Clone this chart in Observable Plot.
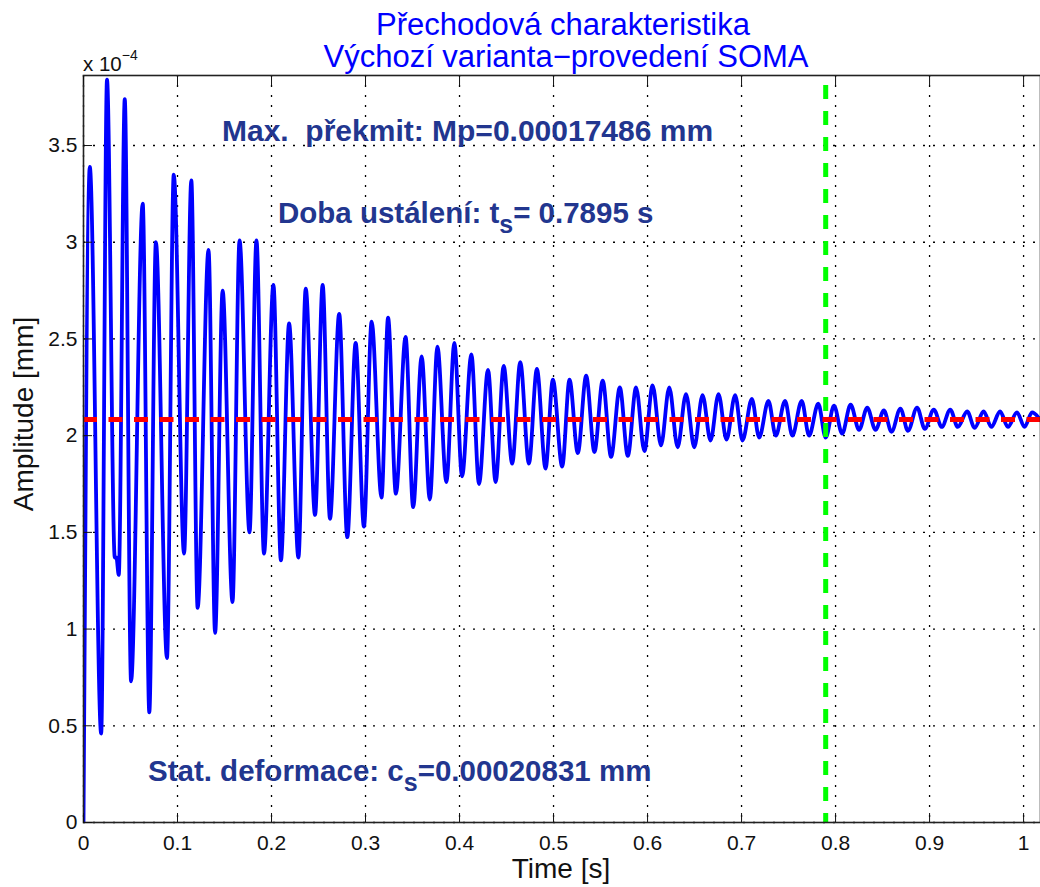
<!DOCTYPE html>
<html><head><meta charset="utf-8">
<script src="https://cdn.jsdelivr.net/npm/d3@7"></script>
<script src="https://cdn.jsdelivr.net/npm/@observablehq/plot@0.6"></script>
<style>
html,body{margin:0;padding:0;background:#fff;overflow:hidden}
#chart svg{display:block}
</style></head><body><div id="chart"></div>
<script>
// Time [s] of the successive extrema of the step response
const time = [
  0, 0.0067, 0.0188, 0.025, 0.0333, 0.0350, 0.0375, 0.0439, 0.0506, 0.063,
  0.070, 0.077, 0.0888, 0.096, 0.107, 0.1147, 0.1214, 0.133, 0.140, 0.148,
  0.1585, 0.166, 0.1766, 0.184, 0.192, 0.202, 0.210, 0.2187, 0.2286, 0.2364,
  0.2463, 0.2544, 0.2622, 0.272, 0.2806, 0.2895, 0.2983, 0.3065, 0.317, 0.324,
  0.3323, 0.3426, 0.3507, 0.3597, 0.3684, 0.3765, 0.386, 0.3945, 0.4027, 0.4126,
  0.4207, 0.4303, 0.4384, 0.447, 0.456, 0.4646, 0.4738, 0.4823, 0.4915, 0.4993,
  0.5092, 0.517, 0.5258, 0.5347, 0.5435, 0.5523, 0.5612, 0.5705, 0.579, 0.5878,
  0.5966, 0.6054, 0.6143, 0.6231, 0.632, 0.6409, 0.6497, 0.6585, 0.667, 0.6755,
  0.684, 0.6932, 0.701, 0.711, 0.7187, 0.7286, 0.7364, 0.7463, 0.754, 0.764,
  0.7718, 0.7816, 0.7895, 0.7983, 0.807, 0.816, 0.825, 0.8337, 0.8425, 0.8514,
  0.8595, 0.869, 0.877, 0.8867, 0.895, 0.9045, 0.913, 0.922, 0.930, 0.940,
  0.948, 0.9575, 0.9657, 0.975, 0.9833, 0.993, 1.001, 1.009, 1.018
];
// Amplitude [mm] x 10^-4
const amplitude = [
  0, 3.39, 0.46, 3.84, 1.37, 1.37, 1.28, 3.74, 0.73, 3.20,
  0.57, 3.00, 0.85, 3.35, 1.39, 3.32, 1.11, 2.96, 0.98, 2.75,
  1.14, 3.01, 1.50, 3.01, 1.39, 2.78, 1.355, 2.58, 1.37, 2.76,
  1.59, 2.78, 1.57, 2.63, 1.475, 2.48, 1.53, 2.59, 1.68, 2.61,
  1.70, 2.51, 1.63, 2.41, 1.67, 2.46, 1.76, 2.48, 1.79, 2.42,
  1.75, 2.34, 1.76, 2.36, 1.855, 2.38, 1.855, 2.345, 1.83, 2.29,
  1.84, 2.29, 1.91, 2.31, 1.915, 2.285, 1.89, 2.25, 1.895, 2.25,
  1.92, 2.26, 1.95, 2.25, 1.94, 2.215, 1.94, 2.21, 1.975, 2.215,
  1.98, 2.21, 1.975, 2.19, 1.99, 2.18, 2.0, 2.18, 2.0, 2.18,
  2.0, 2.165, 1.99, 2.155, 2.01, 2.16, 2.03, 2.145, 2.03, 2.13,
  2.02, 2.14, 2.025, 2.145, 2.035, 2.135, 2.045, 2.135, 2.045, 2.125,
  2.04, 2.125, 2.045, 2.125, 2.045, 2.12, 2.045, 2.12, 2.08
];
const xTicks = [0, 0.1, 0.2, 0.3, 0.4, 0.5, 0.6, 0.7, 0.8, 0.9, 1];
const yTicks = [0, 0.5, 1, 1.5, 2, 2.5, 3, 3.5];
const staticDeformation = [2.0831];   // c_s, x 10^-4 mm
const settlingTime = [0.7895];        // t_s, s
const xDomain = [0, 1.018];
const yDomain = [0, 3.862];

const data = time.map((t, i) => ({t, v: amplitude[i]}));
const fmt = d => String(+d.toFixed(1));
const font = "'Liberation Sans', Arial, Helvetica, sans-serif";

const chart = Plot.plot({
  width: 1040, height: 887,
  marginLeft: 83, marginRight: 0, marginTop: 75, marginBottom: 65,
  style: {fontFamily: font, fontSize: "21px", color: "#111", background: "#fff", overflow: "hidden"},
  x: {domain: xDomain},
  y: {domain: yDomain},
  marks: [
    Plot.gridX(xTicks, {stroke: "#000", strokeOpacity: 1, strokeWidth: 1.3, strokeDasharray: "2,8"}),
    Plot.gridY(yTicks, {stroke: "#000", strokeOpacity: 1, strokeWidth: 1.3, strokeDasharray: "2,8"}),
    Plot.line(data, {x: "t", y: "v", curve: "monotone-x", stroke: "#0000ff", strokeWidth: 3.8, clip: true}),
    Plot.ruleY(staticDeformation, {stroke: "#ff0000", strokeWidth: 5, strokeDasharray: "14,11.5"}),
    Plot.ruleX(settlingTime, {stroke: "#00ff00", strokeWidth: 5, strokeDasharray: "14,12", strokeDashoffset: 16}),
    Plot.frame({stroke: "#222", strokeWidth: 1.6}),
    Plot.axisX(xTicks, {anchor: "bottom", tickSize: -9, tickPadding: 22, tickFormat: fmt, label: null, fontSize: 21}),
    Plot.axisX(xTicks, {anchor: "top", tickSize: -9, tickFormat: () => "", label: null}),
    Plot.axisY(yTicks, {anchor: "left", tickSize: -9, tickPadding: 15, tickFormat: fmt, label: null, fontSize: 21})
  ]
});
document.getElementById("chart").appendChild(chart);

const svg = d3.select(chart);
const g = svg.append("g").attr("font-family", font).attr("text-anchor", "start").style("white-space", "pre");
// title
g.append("text").attr("x", 563).attr("y", 35).attr("text-anchor", "middle")
  .attr("font-size", 31).attr("fill", "#0000ff").text("Přechodová charakteristika");
g.append("text").attr("x", 566).attr("y", 67).attr("text-anchor", "middle")
  .attr("font-size", 31).attr("fill", "#0000ff").text("Výchozí varianta−provedení SOMA");
// exponent
const ex = g.append("text").attr("x", 83).attr("y", 71).attr("font-size", 20.5).attr("fill", "#111");
ex.append("tspan").text("x 10");
ex.append("tspan").attr("dy", -11).attr("font-size", 14).text("−4");
// axis labels
g.append("text").attr("x", 561).attr("y", 878).attr("text-anchor", "middle")
  .attr("font-size", 28).attr("fill", "#111").text("Time [s]");
g.append("text").attr("transform", "translate(33,414) rotate(-90)").attr("text-anchor", "middle")
  .attr("font-size", 28).attr("fill", "#111").text("Amplitude [mm]");
// annotations
const ann = {fill: "#22368f", size: 29.5};
g.append("text").attr("x", 222).attr("y", 141).attr("font-size", 30).attr("font-weight", "bold")
  .attr("fill", ann.fill).text("Max.  překmit: Mp=0.00017486 mm");
const a2 = g.append("text").attr("x", 278).attr("y", 223).attr("font-size", ann.size).attr("font-weight", "bold").attr("fill", ann.fill);
a2.append("tspan").text("Doba ustálení: t");
a2.append("tspan").attr("dy", 10).attr("font-size", 25).text("s");
a2.append("tspan").attr("dy", -10).text("= 0.7895 s");
const a3 = g.append("text").attr("x", 148).attr("y", 781).attr("font-size", ann.size).attr("font-weight", "bold").attr("fill", ann.fill);
a3.append("tspan").text("Stat. deformace: c");
a3.append("tspan").attr("dy", 10).attr("font-size", 25).text("s");
a3.append("tspan").attr("dy", -10).text("=0.00020831 mm");
</script></body></html>
